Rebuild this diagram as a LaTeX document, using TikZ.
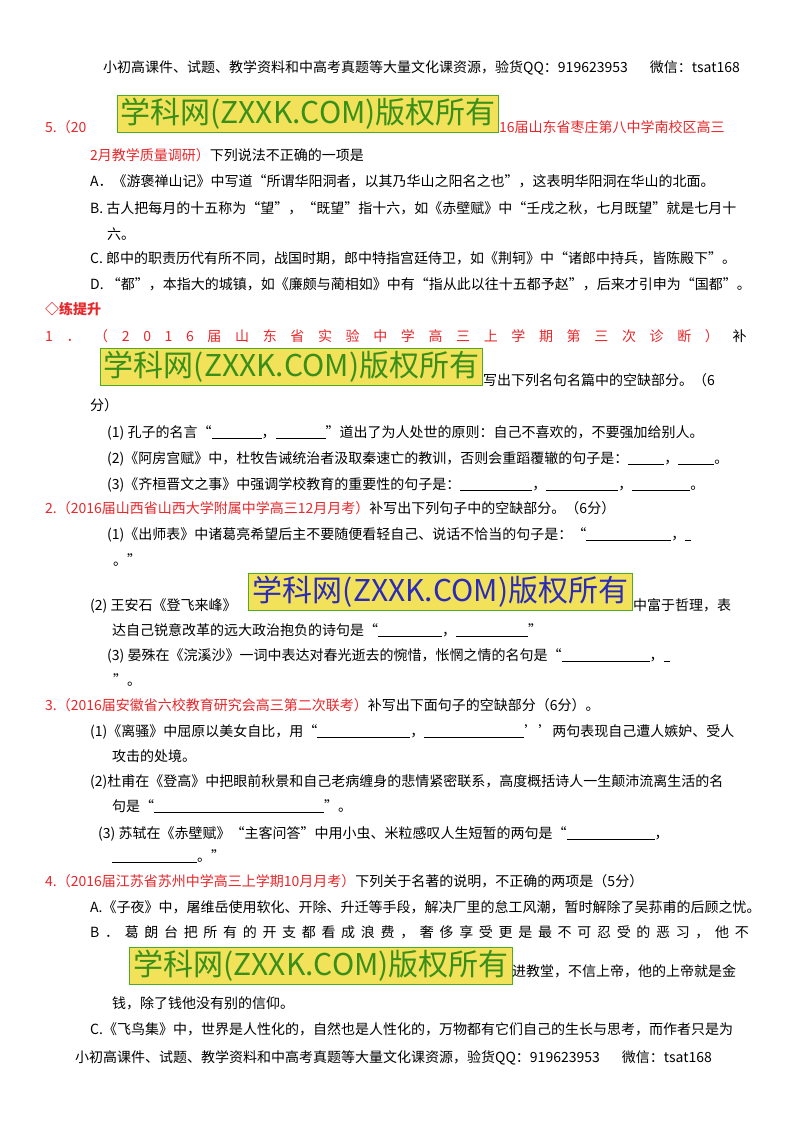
\documentclass[tikz,border=0pt]{standalone}
\usepackage{fontspec}
\setmainfont{Noto Sans CJK SC}
\definecolor{rd}{HTML}{E8272A}
\definecolor{wmfill}{HTML}{F2E25A}
\definecolor{wmline}{HTML}{4DAA22}
\definecolor{wmgreen}{HTML}{3A8F1A}
\definecolor{wmblue}{HTML}{2B2BB8}
\makeatletter
\def\spreadchars#1{\sp@#1\relax}
\def\sp@#1{\ifx#1\relax\else#1\hfil\expandafter\sp@\fi}
\makeatother
\newcommand{\bl}[1]{\rule[-2pt]{#1pt}{0.6pt}}
\begin{document}
\begin{tikzpicture}[x=1pt,y=-1pt,
  txt/.style={anchor=base west,inner sep=0,font=\fontsize{14}{16}\selectfont},
  wm/.style={draw=wmline,line width=1.2pt,fill=wmfill,inner sep=0,anchor=north west,font=\fontsize{30}{32}\selectfont}]
\useasboundingbox[fill=white] (0,0) rectangle (800,1132);
\node[txt] (h1) at (103,73) {小初高课件、试题、教学资料和中高考真题等大量文化课资源，验货QQ：919623953\hspace{22pt}微信：tsat168};
% Q5
\node[txt,text=rd] (q5a) at (45,132) {5.（20};
\node[txt,text=rd] (q5b) at (499,132) {16届山东省枣庄第八中学南校区高三};
\node[wm,minimum width=381pt,minimum height=37pt,text=wmgreen] (w1) at (117,95) {学科网(ZXXK.COM)版权所有};
\node[txt] (q5c) at (90,160) {\textcolor{rd}{2月教学质量调研）}下列说法不正确的一项是};
\node[txt] (q5A) at (90,186) {A．《游褒禅山记》中写道“所谓华阳洞者，以其乃华山之阳名之也”，这表明华阳洞在华山的北面。};
\node[txt] (q5B) at (90,213) {B. 古人把每月的十五称为“望”，“既望”指十六，如《赤壁赋》中“壬戌之秋，七月既望”就是七月十};
\node[txt] (q5B2) at (107,239) {六。};
\node[txt] (q5C) at (90,263) {C. 郎中的职责历代有所不同，战国时期，郎中特指宫廷侍卫，如《荆轲》中“诸郎中持兵，皆陈殿下”。};
\node[txt] (q5D) at (90,289) {D. “都”，本指大的城镇，如《廉颇与蔺相如》中有“指从此以往十五都予赵”，后来才引申为“国都”。};
\node[txt,text=rd,font=\fontsize{14}{16}\bfseries] (lt) at (45,314) {◇练提升};
% 1
\node[txt] (p1) at (45,341) {\makebox[715pt][l]{\textcolor{rd}{\spreadchars{1．（2016届山东省实验中学高三上学期第三次诊断）}}补}};
\node[wm,minimum width=382pt,minimum height=37pt,text=wmgreen] (w2) at (100,348) {学科网(ZXXK.COM)版权所有};
\node[txt] (p1b) at (483,385) {写出下列名句名篇中的空缺部分。（6};
\node[txt] (p1c) at (90,410) {分）};
\node[txt] (p11) at (107,437) {(1) 孔子的名言“\bl{50}，\bl{50}”道出了为人处世的原则：自己不喜欢的，不要强加给别人。};
\node[txt] (p12) at (107,463) {(2)《阿房宫赋》中，杜牧告诫统治者汲取秦速亡的教训，否则会重蹈覆辙的句子是：\bl{36}，\bl{36}。};
\node[txt] (p13) at (107,489) {(3)《齐桓晋文之事》中强调学校教育的重要性的句子是：\bl{72}，\bl{72}，\bl{58}。};
% 2
\node[txt] (p2) at (45,513) {\textcolor{rd}{2.（2016届山西省山西大学附属中学高三12月月考）}补写出下列句子中的空缺部分。（6分）};
\node[txt] (p21) at (107,539) {(1)《出师表》中诸葛亮希望后主不要随便看轻自己、说话不恰当的句子是：“\bl{85}，\bl{6}};
\node[txt] (p21b) at (113,565) {。”};
\node[wm,minimum width=384pt,minimum height=37pt,text=wmblue] (w3) at (248,573) {学科网(ZXXK.COM)版权所有};
\node[txt] (p22) at (90,610) {(2) 王安石《登飞来峰》};
\node[txt] (p22b) at (633,610) {中富于哲理，表};
\node[txt] (p22c) at (112,635) {达自己锐意改革的远大政治抱负的诗句是“\bl{64}，\bl{72}”};
\node[txt] (p23) at (107,660) {(3) 晏殊在《浣溪沙》一词中表达对春光逝去的惋惜，怅惘之情的名句是“\bl{88}，\bl{6}};
\node[txt] (p23b) at (113,685) {”。};
% 3
\node[txt] (p3) at (45,710) {\textcolor{rd}{3.（2016届安徽省六校教育研究会高三第二次联考）}补写出下面句子的空缺部分（6分）。};
\node[txt] (p31) at (90,736) {(1)《离骚》中屈原以美女自比，用“\bl{93}，\bl{100}’’两句表现自己遭人嫉妒、受人};
\node[txt] (p31b) at (112,761) {攻击的处境。};
\node[txt] (p32) at (90,786) {(2)杜甫在《登高》中把眼前秋景和自己老病缠身的悲情紧密联系，高度概括诗人一生颠沛流离生活的名};
\node[txt] (p32b) at (112,811) {句是“\bl{170}”。};
\node[txt] (p33) at (98,838) {(3) 苏轼在《赤壁赋》“主客问答”中用小虫、米粒感叹人生短暂的两句是“\bl{88}，};
\node[txt] (p33b) at (112,861) {\bl{85}。”};
% 4
\node[txt] (p4) at (45,886) {\textcolor{rd}{4.（2016届江苏省苏州中学高三上学期10月月考）}下列关于名著的说明，不正确的两项是（5分）};
\node[txt] (p4A) at (90,912) {A.《子夜》中，屠维岳使用软化、开除、升迁等手段，解决厂里的怠工风潮，暂时解除了吴荪甫的后顾之忧。};
\node[txt] (p4B) at (90,937) {\makebox[670pt][l]{\spreadchars{B．葛朗台把所有的开支都看成浪费，奢侈享受更是最不可忍受的恶习，他不}}};
\node[wm,minimum width=383pt,minimum height=37pt,text=wmgreen] (w4) at (129,947) {学科网(ZXXK.COM)版权所有};
\node[txt] (p4B2) at (512,976) {进教堂，不信上帝，他的上帝就是金};
\node[txt] (p4B3) at (112,1008) {钱，除了钱他没有别的信仰。};
\node[txt] (p4C) at (90,1034) {C.《飞鸟集》中，世界是人性化的，自然也是人性化的，万物都有它们自己的生长与思考，而作者只是为};
\node[txt] (h2) at (75,1062) {小初高课件、试题、教学资料和中高考真题等大量文化课资源，验货QQ：919623953\hspace{22pt}微信：tsat168};
\end{tikzpicture}
\end{document}
